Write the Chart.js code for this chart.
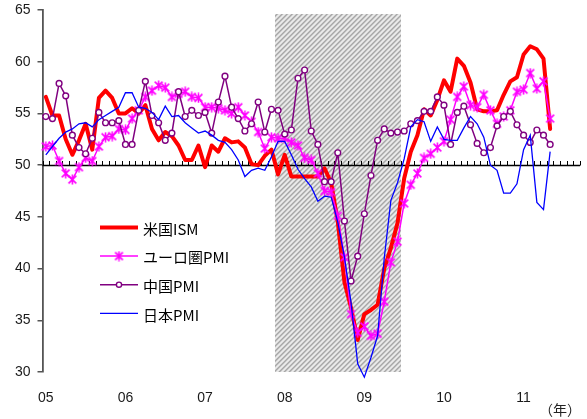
<!DOCTYPE html>
<html lang="ja">
<head>
<meta charset="utf-8">
<title>製造業PMIの推移</title>
<script src="https://cdn.jsdelivr.net/npm/chart.js@4.4.1/dist/chart.umd.min.js"></script>
<style>
  html, body { margin: 0; padding: 0; background: #ffffff; }
  #wrap { position: relative; width: 587px; height: 419px; }
</style>
</head>
<body>
<div id="wrap"><canvas id="pmi" width="587" height="419"></canvas></div>
<script>
// Monthly readings, January 2005 through May 2011
const firstYear = 2005;
const yearLabels = ['05', '06', '07', '08', '09', '10', '11'];
const unitLabel = '（年）';
const seriesNames = ['米国ISM', 'ユーロ圏PMI', '中国PMI', '日本PMI'];

const usIsm = [
  56.6, 54.8, 54.8, 52.5, 51.0, 52.4, 54.0, 51.5, 56.5, 57.2, 56.5, 55.0,
  55.0, 55.5, 55.0, 55.8, 53.5, 52.4, 53.2, 52.8, 51.9, 50.5, 50.5, 51.9,
  49.8, 51.9, 51.3, 52.6, 52.2, 52.3, 51.7, 50.1, 50.0, 50.9, 51.5, 49.1,
  51.0, 48.9, 48.9, 48.9, 48.9, 48.9, 49.7, 48.3, 44.5, 38.7, 36.2, 33.1,
  35.6, 36.0, 36.5, 40.0, 42.0, 44.4, 48.7, 51.3, 52.9, 55.4, 54.8, 56.3,
  58.2, 57.1, 60.3, 59.6, 58.0, 55.4, 55.2, 55.2, 55.3, 56.8, 58.1, 58.5,
  60.7, 61.5, 61.2, 60.3, 53.5
];
const euroPmi = [
  51.8, 51.9, 50.4, 49.2, 48.6, 49.8, 50.7, 50.4, 51.8, 52.7, 52.8, 53.5,
  53.4, 54.5, 55.3, 56.6, 57.2, 57.7, 57.5, 56.6, 56.9, 57.1, 56.6, 56.5,
  55.6, 55.6, 55.5, 55.3, 55.0, 55.6, 54.8, 54.2, 53.2, 51.6, 52.7, 52.6,
  52.6, 52.2, 51.9, 50.7, 50.5, 49.2, 47.5, 47.4, 45.1, 41.1, 35.6, 33.8,
  34.4, 33.5, 33.7, 36.8, 40.6, 42.6, 46.3, 48.1, 49.2, 50.7, 51.1, 51.7,
  52.3, 54.4, 56.6, 57.6, 55.8, 55.6, 56.8, 55.3, 54.0, 54.7, 55.3, 57.1,
  57.3, 58.9, 57.4, 58.1, 54.5
];
const chinaPmi = [
  54.7, 54.5, 57.9, 56.7, 52.9, 51.7, 51.1, 52.6, 55.1, 54.1, 54.1, 54.3,
  52.0, 52.0, 55.3, 58.1, 54.8, 54.1, 52.4, 53.1, 57.1, 54.7, 55.3, 54.8,
  55.1, 53.1, 56.1, 58.6, 55.6, 54.5, 53.3, 54.0, 56.1, 53.2, 55.4, 55.3,
  53.0, 53.4, 58.4, 59.2, 53.3, 52.0, 48.4, 48.4, 51.2, 44.6, 38.8, 41.2,
  45.3, 49.0, 52.4, 53.5, 53.1, 53.2, 53.3, 54.0, 54.3, 55.2, 55.2, 56.6,
  55.8, 52.0, 55.1, 55.7, 53.9, 52.1, 51.2, 51.7, 53.8, 54.7, 55.2, 53.9,
  52.9, 52.2, 53.4, 52.9, 52.0
];
const japanPmi = [
  51.0, 51.8, 52.6, 53.2, 53.5, 54.0, 54.1, 53.7, 54.4, 54.8, 55.2, 55.6,
  57.0, 57.0, 55.6, 55.5, 55.1, 54.4, 55.7, 54.7, 54.8, 54.1, 53.6, 53.1,
  53.3, 52.9, 52.4, 52.2, 51.5, 50.5, 48.9, 49.5, 49.7, 49.5, 50.8, 52.3,
  52.3, 51.0, 49.6, 48.7, 47.9, 46.5, 47.0, 46.9, 44.5, 41.1, 36.7, 30.8,
  29.5, 31.4, 33.5, 41.0, 46.6, 48.3, 50.6, 53.7, 54.4, 54.2, 52.3, 53.7,
  52.5, 52.4, 52.4, 53.6, 54.7, 54.0, 52.7, 50.0, 49.5, 47.3, 47.3, 48.2,
  51.5, 52.9, 46.4, 45.7, 51.3
];

// US recession months (shaded) and the height of the band
const recessionMonths = ['2007-12', '2009-06'];
const recessionCeiling = 64.6;
// Expansion / contraction threshold
const referenceLevel = 50;

function monthIndex(ym) {
  const [y, m] = ym.split('-').map(Number);
  return (y - firstYear) * 12 + (m - 1);
}
const toPoints = arr => arr.map((v, i) => ({ x: i, y: v }));

// Asterisk marker: an X crossed by a vertical stroke
function makeAsterisk(size, color, lw) {
  const c = document.createElement('canvas');
  c.width = size; c.height = size;
  const g = c.getContext('2d');
  g.strokeStyle = color; g.lineWidth = lw;
  const m = size / 2, r = size / 2 - 0.5, d = r * 0.78;
  g.beginPath();
  g.moveTo(m, m - r); g.lineTo(m, m + r);
  g.moveTo(m - d, m - d); g.lineTo(m + d, m + d);
  g.moveTo(m + d, m - d); g.lineTo(m - d, m + d);
  g.stroke();
  return c;
}

// Diagonal hatch tile for the recession band
function makeHatch(ctx) {
  const t = document.createElement('canvas');
  t.width = 10; t.height = 10;
  const g = t.getContext('2d');
  const img = g.createImageData(10, 10);
  const shades = [168, 186, 226, 236, 214];
  for (let y = 0; y < 10; y++) {
    for (let x = 0; x < 10; x++) {
      const s = shades[(x + y) % 5];
      const o = (y * 10 + x) * 4;
      img.data[o] = s; img.data[o + 1] = s; img.data[o + 2] = s; img.data[o + 3] = 255;
    }
  }
  g.putImageData(img, 0, 0);
  return ctx.createPattern(t, 'repeat');
}

// Scales keep their own label margins off the plot edges
function noScalePadding(s) {
  s.paddingTop = 0; s.paddingBottom = 0; s.paddingLeft = 0; s.paddingRight = 0;
}

const asterisk = makeAsterisk(11, '#FF00FF', 1.6);

const backdropPlugin = {
  id: 'backdrop',
  beforeDatasetsDraw(chart) {
    const { ctx, chartArea, scales: { x, y } } = chart;
    ctx.save();
    // recession band
    const x0 = x.getPixelForValue(monthIndex(recessionMonths[0]) - 0.5);
    const x1 = x.getPixelForValue(monthIndex(recessionMonths[1]) + 0.5);
    const yTop = y.getPixelForValue(recessionCeiling);
    const yBot = y.getPixelForValue(y.min);
    ctx.fillStyle = makeHatch(ctx);
    ctx.fillRect(Math.round(x0), Math.round(yTop), Math.round(x1 - x0), Math.round(yBot - yTop));
    // 50 line with monthly ticks
    const py = Math.round(y.getPixelForValue(referenceLevel)) + 0.5;
    ctx.strokeStyle = '#000000';
    ctx.lineWidth = 1.6;
    ctx.beginPath();
    ctx.moveTo(chartArea.left, py);
    ctx.lineTo(chartArea.right, py);
    ctx.stroke();
    ctx.lineWidth = 1;
    ctx.beginPath();
    for (let m = x.min; m <= x.max + 1e-6; m += 1) {
      const px = Math.round(x.getPixelForValue(m)) + 0.5;
      ctx.moveTo(px, py);
      ctx.lineTo(px, py - 4.5);
    }
    ctx.stroke();
    ctx.restore();
  }
};

const legendPlugin = {
  id: 'insideLegend',
  afterDraw(chart) {
    const { ctx } = chart;
    ctx.save();
    seriesNames.forEach((name, i) => {
      const ds = chart.data.datasets[i];
      const ly = 227.5 + i * 28.6;
      ctx.strokeStyle = ds.borderColor;
      ctx.lineWidth = ds.borderWidth;
      ctx.lineCap = 'butt';
      ctx.beginPath();
      ctx.moveTo(100, ly);
      ctx.lineTo(138, ly);
      ctx.stroke();
      if (ds.pointStyle === asterisk) {
        ctx.drawImage(asterisk, 119 - 5.5, ly - 5.5);
      } else if (ds.pointStyle === 'circle') {
        ctx.beginPath();
        ctx.arc(119, ly, 2.6, 0, Math.PI * 2);
        ctx.fillStyle = '#ffffff';
        ctx.fill();
        ctx.lineWidth = 1.4;
        ctx.stroke();
      }
      ctx.fillStyle = '#000000';
      ctx.font = '15px "Noto Sans CJK JP", sans-serif';
      ctx.textAlign = 'left';
      ctx.textBaseline = 'middle';
      ctx.fillText(name, 143, ly + 1.5);
    });
    ctx.font = '14px "Noto Sans CJK JP", sans-serif';
    ctx.textAlign = 'center';
    ctx.textBaseline = 'middle';
    ctx.fillStyle = '#222222';
    ctx.fillText(unitLabel, 560, 410);
    ctx.restore();
  }
};

new Chart(document.getElementById('pmi'), {
  type: 'line',
  data: {
    datasets: [
      {
        label: seriesNames[0], data: toPoints(usIsm),
        borderColor: '#FF0000', borderWidth: 4, pointRadius: 0,
        borderJoinStyle: 'round', borderCapStyle: 'round', order: 4
      },
      {
        label: seriesNames[1], data: toPoints(euroPmi),
        borderColor: '#FF00FF', borderWidth: 1.5,
        pointStyle: asterisk, pointRadius: 5.5, order: 3
      },
      {
        label: seriesNames[2], data: toPoints(chinaPmi),
        borderColor: '#800080', borderWidth: 1.5,
        pointStyle: 'circle', pointRadius: 2.9,
        pointBackgroundColor: '#ffffff', pointBorderColor: '#800080',
        pointBorderWidth: 1.4, order: 2
      },
      {
        label: seriesNames[3], data: toPoints(japanPmi),
        borderColor: '#0000FF', borderWidth: 1.3, pointRadius: 0, order: 1
      }
    ]
  },
  options: {
    responsive: false,
    animation: false,
    devicePixelRatio: 1,
    layout: { padding: { top: 10, right: 5, left: 0, bottom: 0 } },
    elements: { line: { tension: 0, fill: false }, point: { hoverRadius: 0 } },
    datasets: { line: { clip: false } },
    plugins: { legend: { display: false }, tooltip: { enabled: false } },
    scales: {
      x: {
        type: 'linear', min: -0.5, max: 80.5,
        afterBuildTicks: s => { s.ticks = yearLabels.map((_, i) => ({ value: i * 12 })); },
        afterFit: s => { s.height = 47; noScalePadding(s); },
        grid: { display: false, drawTicks: false },
        border: { display: false },
        ticks: {
          autoSkip: false, maxRotation: 0, padding: 18,
          color: '#1a1a1a', font: { family: '"Liberation Sans", Arial, sans-serif', size: 14 },
          callback: v => yearLabels[Math.round(v / 12)]
        }
      },
      y: {
        min: 30, max: 65,
        afterFit: s => { s.width = 42.5; noScalePadding(s); },
        ticks: {
          stepSize: 5, padding: 7, color: '#1a1a1a',
          font: { family: '"Liberation Sans", Arial, sans-serif', size: 14 }
        },
        grid: { drawOnChartArea: false, drawTicks: true, tickLength: 5, color: '#555555', lineWidth: 1.5 },
        border: { display: true, color: '#555555', width: 1.8 }
      }
    }
  },
  plugins: [backdropPlugin, legendPlugin]
});
</script>
</body>
</html>
